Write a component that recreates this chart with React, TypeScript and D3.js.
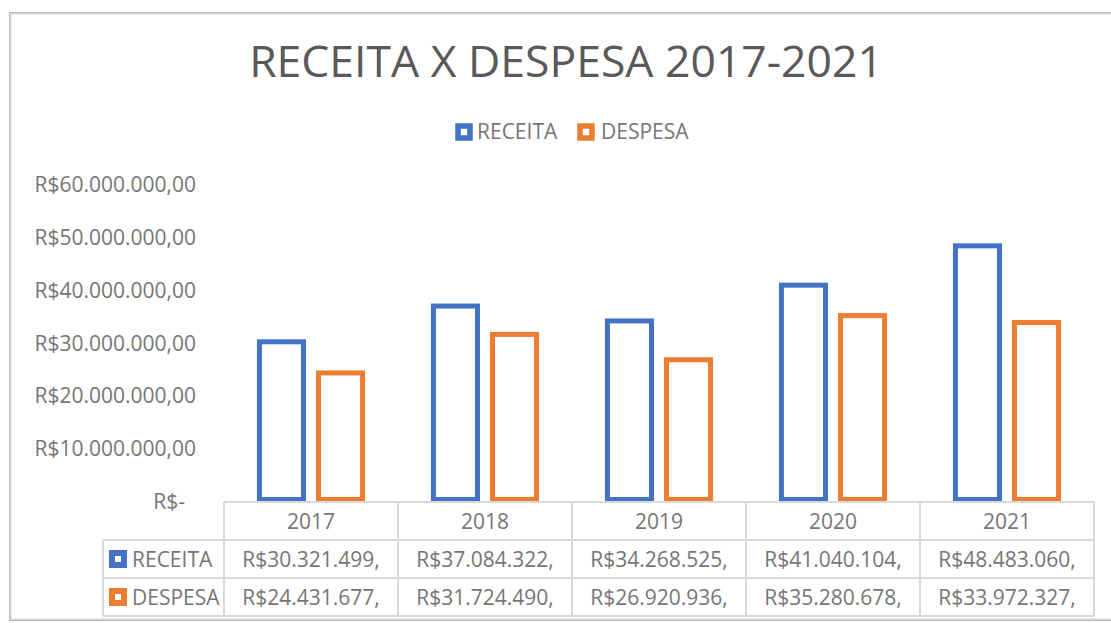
import React from "react";
import * as d3 from "d3";

const years = ["2017", "2018", "2019", "2020", "2021"];
const seriesNames = ["RECEITA", "DESPESA"];
const receita = [30321499, 37084322, 34268525, 41040104, 48483060];
const despesa = [24431677, 31724490, 26920936, 35280678, 33972327];
const yTicks = [0, 10e6, 20e6, 30e6, 40e6, 50e6, 60e6];
const colors = ["#4472C4", "#ED7D31"];

const W = 1111;
const H = 623;
const FONT = "'Open Sans', sans-serif";
const LABEL = "#767676";
const FS = 21;

function fmtAxis(v: number) {
  if (v === 0) return "R$-";
  const s = d3.format(",")(v).replace(/,/g, ".");
  return "R$" + s + ",00";
}
function fmtCell(v: number) {
  return "R$" + d3.format(",")(v).replace(/,/g, ".") + ",";
}

export default function App() {
  const y = d3.scaleLinear().domain([0, 60e6]).range([502, 185]);
  const x0 = d3.scaleBand<string>().domain(years).range([224, 1094]);
  const x1 = d3
    .scaleBand<string>()
    .domain(seriesNames)
    .range([0, x0.bandwidth()])
    .paddingInner(0.254)
    .paddingOuter(0.6);
  const data = [receita, despesa];
  const rowY = [502, 540, 578, 616];
  const legendLeft = 103;
  const sw = 5;

  return (
    <div style={{ position: "absolute", left: 0, top: 0 }}>
      <svg width={W} height={H} style={{ display: "block" }}>
        <rect x={0} y={0} width={W} height={H} fill="#ffffff" />
        {/* frame */}
        <rect x={9.5} y={12.5} width={W} height={608} fill="none" stroke="#b9b9b9" strokeWidth={1} />
        <rect x={10.5} y={13.5} width={W} height={606} fill="none" stroke="#d6d6d6" strokeWidth={1} />
        <rect x={11.5} y={14.5} width={W} height={604} fill="none" stroke="#ececec" strokeWidth={1} />

        {/* title */}
        <text x={566} y={77} textAnchor="middle" fontFamily={FONT} fontSize={44.5} fill="#595959">
          RECEITA X DESPESA 2017-2021
        </text>

        {/* legend */}
        {seriesNames.map((s, i) => {
          const lx = i === 0 ? 458 : 580;
          return (
            <g key={s}>
              <rect x={lx} y={126} width={12} height={12} fill="#fff" stroke={colors[i]} strokeWidth={5.5} />
              <text x={i === 0 ? 477 : 601} y={139} fontFamily={FONT} fontSize={FS} fill={LABEL}>
                {s}
              </text>
            </g>
          );
        })}

        {/* y axis labels */}
        {yTicks.map((t) => (
          <text
            key={t}
            x={t === 0 ? 185 : 196}
            y={y(t) + 7}
            textAnchor="end"
            fontFamily={FONT}
            fontSize={FS}
            fill={LABEL}
          >
            {fmtAxis(t)}
          </text>
        ))}

        {/* bars */}
        {years.map((yr, i) => (
          <g key={yr}>
            {seriesNames.map((s, j) => {
              const bx = (x0(yr) as number) + (x1(s) as number);
              const v = data[j][i];
              return (
                <rect
                  key={s}
                  x={bx}
                  y={y(v)}
                  width={x1.bandwidth()}
                  height={y(0) - y(v) - sw / 2}
                  fill="none"
                  stroke={colors[j]}
                  strokeWidth={sw}
                />
              );
            })}
          </g>
        ))}

        {/* data table */}
        <g stroke="#d9d9d9" strokeWidth={2} fill="none">
          <line x1={224} x2={1094} y1={rowY[0]} y2={rowY[0]} />
          <line x1={legendLeft} x2={1094} y1={rowY[1]} y2={rowY[1]} />
          <line x1={legendLeft} x2={1094} y1={rowY[2]} y2={rowY[2]} />
          <line x1={legendLeft} x2={1094} y1={rowY[3]} y2={rowY[3]} />
          <line x1={legendLeft} x2={legendLeft} y1={rowY[1]} y2={rowY[3]} />
          {years.map((yr) => (
            <line key={yr} x1={x0(yr) as number} x2={x0(yr) as number} y1={rowY[0]} y2={rowY[3]} />
          ))}
          <line x1={1094} x2={1094} y1={rowY[0]} y2={rowY[3]} />
        </g>
        {years.map((yr) => (
          <text
            key={yr}
            x={(x0(yr) as number) + x0.bandwidth() / 2}
            y={rowY[0] + 27}
            textAnchor="middle"
            fontFamily={FONT}
            fontSize={FS}
            fill={LABEL}
          >
            {yr}
          </text>
        ))}
        {seriesNames.map((s, j) => (
          <g key={s}>
            <rect x={112} y={rowY[j + 1] + 13} width={12} height={12} fill="#fff" stroke={colors[j]} strokeWidth={6} />
            <text x={132} y={rowY[j + 1] + 27} fontFamily={FONT} fontSize={FS} fill={LABEL}>
              {s}
            </text>
            {years.map((yr, i) => (
              <text
                key={yr}
                x={(x0(yr) as number) + x0.bandwidth() / 2}
                y={rowY[j + 1] + 27}
                textAnchor="middle"
                fontFamily={FONT}
                fontSize={FS}
                fill={LABEL}
              >
                {fmtCell(data[j][i])}
              </text>
            ))}
          </g>
        ))}
      </svg>
    </div>
  );
}
